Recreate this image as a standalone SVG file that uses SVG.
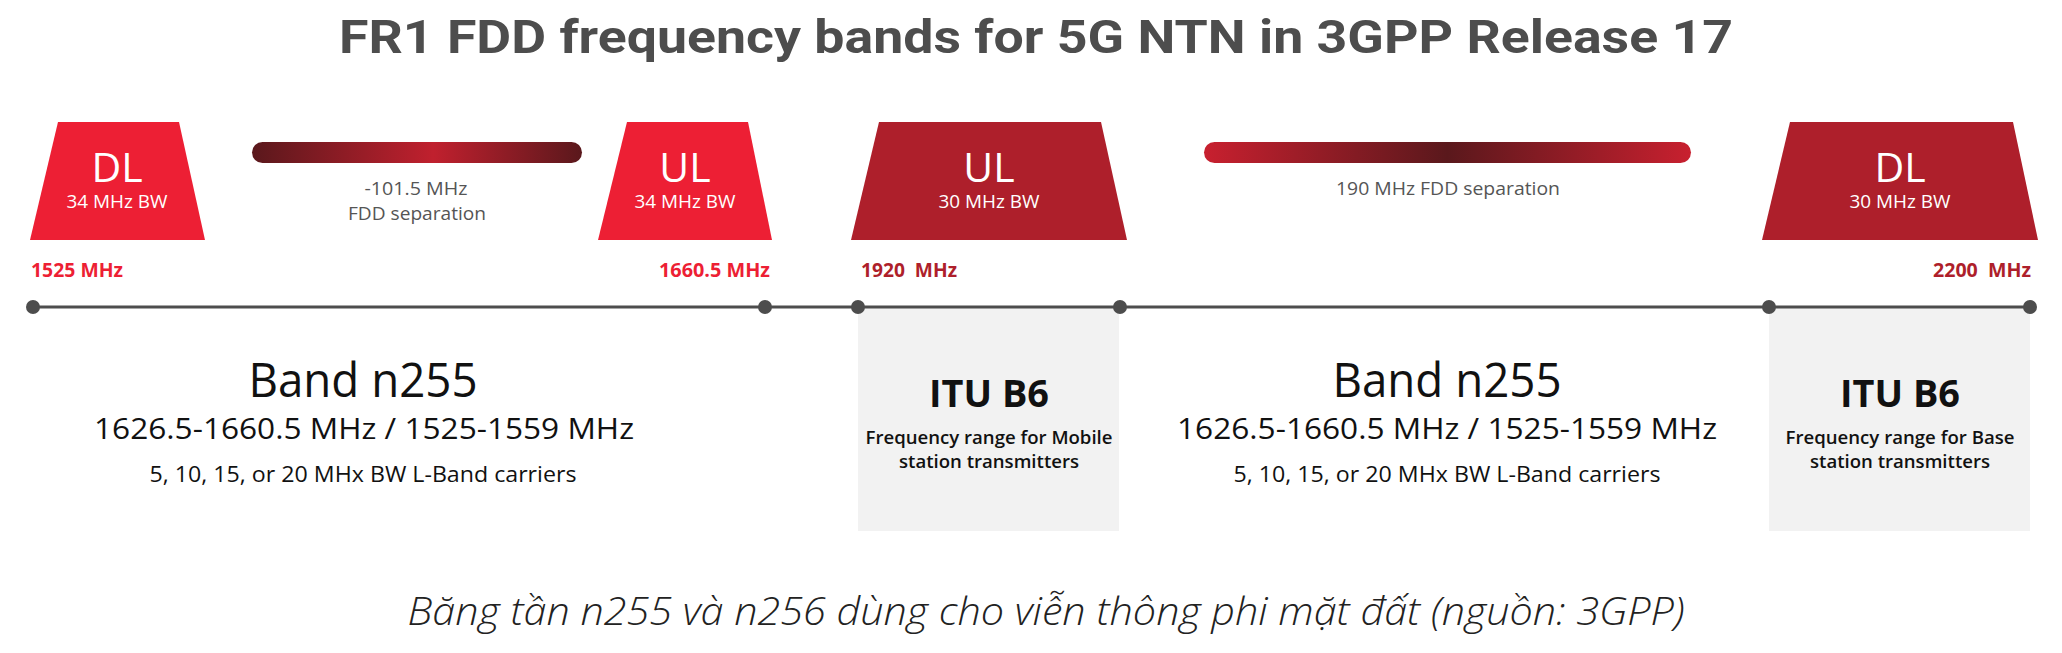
<svg xmlns="http://www.w3.org/2000/svg" width="2062" height="653" viewBox="0 0 2062 653">
<defs>
<linearGradient id="g1" x1="0" y1="0" x2="1" y2="0">
<stop offset="0" stop-color="#5a181c"/>
<stop offset="0.55" stop-color="#c0202e"/>
<stop offset="1" stop-color="#5a181c"/>
</linearGradient>
<linearGradient id="g2" x1="0" y1="0" x2="1" y2="0">
<stop offset="0" stop-color="#c8202f"/>
<stop offset="0.5" stop-color="#5a181c"/>
<stop offset="1" stop-color="#c8202f"/>
</linearGradient>
<style>
.tt{font-family:"Roboto","Liberation Sans",sans-serif;font-weight:700;fill:#4d4d4d;}
.big{font-family:"Open Sans","Liberation Sans",sans-serif;font-weight:500;fill:#fff;text-anchor:middle;font-size:41px;}
.bw{font-family:"Open Sans","Liberation Sans",sans-serif;fill:#fff;text-anchor:middle;font-size:18px;}
.sep{font-family:"Open Sans","Liberation Sans",sans-serif;fill:#555;text-anchor:middle;font-size:19px;}
.fq{font-family:"Open Sans","Liberation Sans",sans-serif;font-weight:700;font-size:19px;}
.red{fill:#ed1f34;}
.dred{fill:#ae1f2b;}
.b1{font-family:"Open Sans","Liberation Sans",sans-serif;fill:#111;text-anchor:middle;font-size:47px;}
.b2{font-family:"Open Sans","Liberation Sans",sans-serif;fill:#111;text-anchor:middle;font-size:29px;}
.b3{font-family:"Open Sans","Liberation Sans",sans-serif;fill:#111;text-anchor:middle;font-size:22px;}
.itu{font-family:"Open Sans","Liberation Sans",sans-serif;font-weight:700;fill:#111;text-anchor:middle;font-size:38px;}
.itus{font-family:"Open Sans","Liberation Sans",sans-serif;font-weight:600;fill:#111;text-anchor:middle;font-size:18.5px;}
.cap{font-family:"Open Sans","Liberation Sans",sans-serif;font-style:italic;font-weight:300;fill:#222;text-anchor:middle;font-size:39px;}
.dot{fill:#4d4d4d;}
.box{fill:#f2f2f2;}
</style>
</defs>
<rect width="2062" height="653" fill="#fff"/>
<text class="tt" x="339" y="53" font-size="46" textLength="1394" lengthAdjust="spacingAndGlyphs">FR1 FDD frequency bands for 5G NTN in 3GPP Release 17</text>

<g id="box-itu1"><rect class="box" x="858" y="307" width="261" height="224"/></g>
<g id="box-itu2"><rect class="box" x="1769" y="307" width="261" height="224"/></g>

<g id="connectors">
<line x1="33" y1="307" x2="2030" y2="307" stroke="#4d4d4d" stroke-width="3"/>
<circle class="dot" cx="33" cy="307" r="7"/>
<circle class="dot" cx="765" cy="307" r="7"/>
<circle class="dot" cx="858" cy="307" r="7"/>
<circle class="dot" cx="1120" cy="307" r="7"/>
<circle class="dot" cx="1769" cy="307" r="7"/>
<circle class="dot" cx="2030" cy="307" r="7"/>
</g>

<g id="dl1">
<polygon class="red" points="58,122 179,122 205,240 30,240"/>
<text class="big" x="117" y="182">DL</text>
<text class="bw" x="117" y="208" textLength="101" lengthAdjust="spacingAndGlyphs">34 MHz BW</text>
</g>
<g id="ul1">
<polygon class="red" points="627,122 748,122 772,240 598,240"/>
<text class="big" x="685" y="182">UL</text>
<text class="bw" x="685" y="208" textLength="101" lengthAdjust="spacingAndGlyphs">34 MHz BW</text>
</g>
<g id="ul2">
<polygon class="dred" points="879,122 1101,122 1127,240 851,240"/>
<text class="big" x="989" y="182">UL</text>
<text class="bw" x="989" y="208" textLength="101" lengthAdjust="spacingAndGlyphs">30 MHz BW</text>
</g>
<g id="dl2">
<polygon class="dred" points="1790,122 2013,122 2038,240 1762,240"/>
<text class="big" x="1900" y="182">DL</text>
<text class="bw" x="1900" y="208" textLength="101" lengthAdjust="spacingAndGlyphs">30 MHz BW</text>
</g>

<g id="sep1">
<rect x="252" y="142" width="330" height="21" rx="10.5" fill="url(#g1)"/>
<text class="sep" x="416" y="195" textLength="103" lengthAdjust="spacingAndGlyphs">-101.5 MHz</text>
<text class="sep" x="417" y="220" textLength="138" lengthAdjust="spacingAndGlyphs">FDD separation</text>
</g>
<g id="sep2">
<rect x="1204" y="142" width="487" height="21" rx="10.5" fill="url(#g2)"/>
<text class="sep" x="1448" y="195" textLength="224" lengthAdjust="spacingAndGlyphs">190 MHz FDD separation</text>
</g>

<g id="freqs">
<text class="fq red" x="31" y="277" textLength="92" lengthAdjust="spacingAndGlyphs">1525 MHz</text>
<text class="fq red" x="659" y="277" textLength="111" lengthAdjust="spacingAndGlyphs">1660.5 MHz</text>
<text class="fq dred" x="861" y="277" textLength="96" lengthAdjust="spacingAndGlyphs" xml:space="preserve">1920  MHz</text>
<text class="fq dred" x="1933" y="277" textLength="98" lengthAdjust="spacingAndGlyphs" xml:space="preserve">2200  MHz</text>
</g>

<g id="band1">
<text class="b1" x="363" y="397" textLength="229" lengthAdjust="spacingAndGlyphs">Band n255</text>
<text class="b2" x="364" y="439" textLength="540" lengthAdjust="spacingAndGlyphs">1626.5-1660.5 MHz / 1525-1559 MHz</text>
<text class="b3" x="363" y="482" textLength="427" lengthAdjust="spacingAndGlyphs">5, 10, 15, or 20 MHx BW L-Band carriers</text>
</g>
<g id="itu1">
<text class="itu" x="989" y="407" textLength="120" lengthAdjust="spacingAndGlyphs">ITU B6</text>
<text class="itus" x="989" y="444" textLength="247" lengthAdjust="spacingAndGlyphs">Frequency range for Mobile</text>
<text class="itus" x="989" y="468" textLength="180" lengthAdjust="spacingAndGlyphs">station transmitters</text>
</g>
<g id="band2">
<text class="b1" x="1447" y="397" textLength="229" lengthAdjust="spacingAndGlyphs">Band n255</text>
<text class="b2" x="1447" y="439" textLength="540" lengthAdjust="spacingAndGlyphs">1626.5-1660.5 MHz / 1525-1559 MHz</text>
<text class="b3" x="1447" y="482" textLength="427" lengthAdjust="spacingAndGlyphs">5, 10, 15, or 20 MHx BW L-Band carriers</text>
</g>
<g id="itu2">
<text class="itu" x="1900" y="407" textLength="120" lengthAdjust="spacingAndGlyphs">ITU B6</text>
<text class="itus" x="1900" y="444" textLength="229" lengthAdjust="spacingAndGlyphs">Frequency range for Base</text>
<text class="itus" x="1900" y="468" textLength="180" lengthAdjust="spacingAndGlyphs">station transmitters</text>
</g>

<text class="cap" x="1046" y="625" textLength="1277" lengthAdjust="spacingAndGlyphs">Băng tần n255 và n256 dùng cho viễn thông phi mặt đất (nguồn: 3GPP)</text>
</svg>
